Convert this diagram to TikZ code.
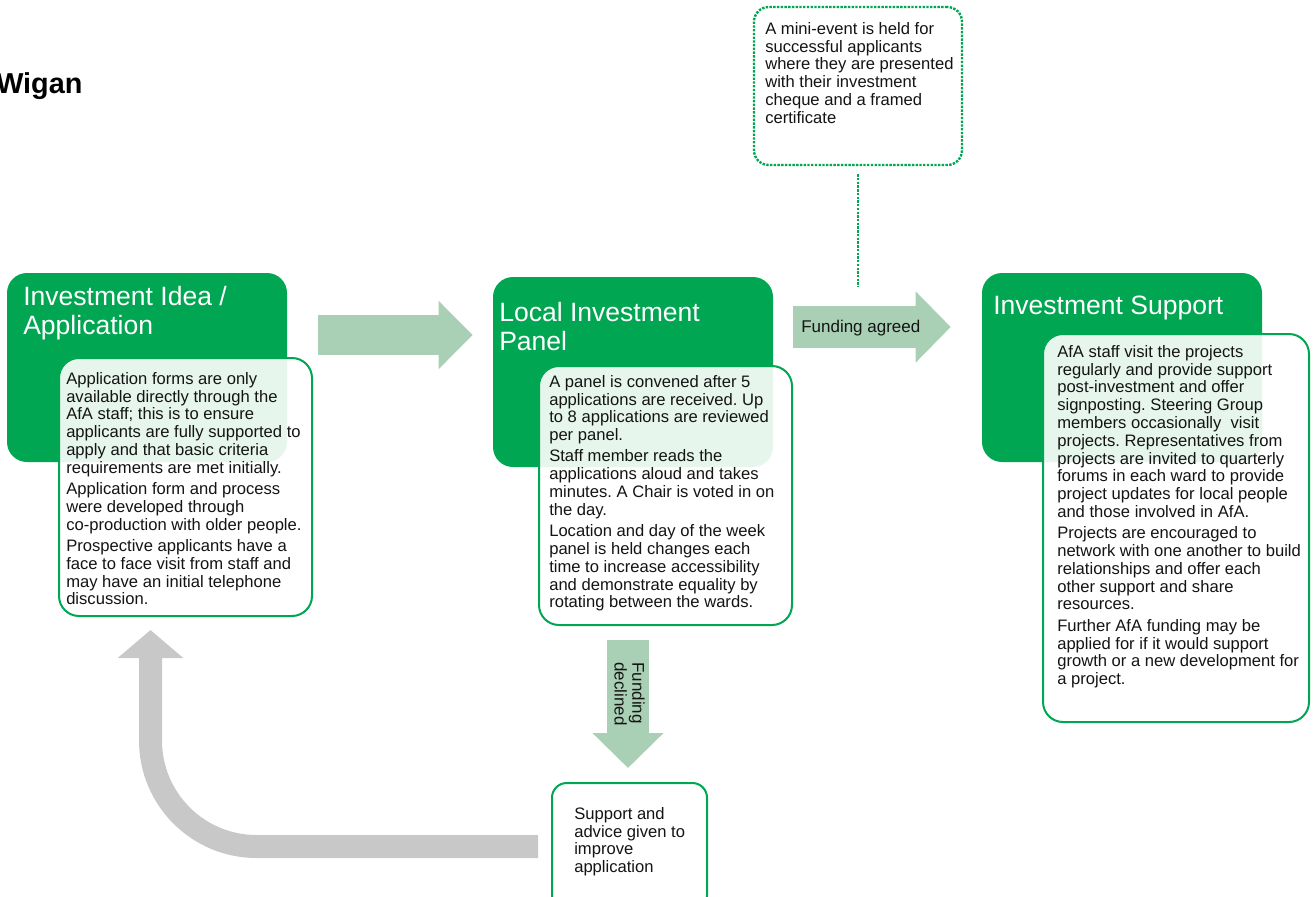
\documentclass[tikz,border=0pt]{standalone}
\usepackage{fontspec}
\setmainfont{Liberation Sans}
\usetikzlibrary{arrows.meta}
\frenchspacing
\definecolor{afagreen}{RGB}{0,166,81}
\definecolor{arrowgreen}{RGB}{169,208,181}
\definecolor{arrowgrey}{RGB}{200,200,200}
\definecolor{inktext}{RGB}{20,20,20}
\tikzset{>=stealth,
  boxsize/.style 2 args={minimum width=#1*0.75pt, minimum height=#2*0.75pt},
  headbox/.style={fill=afagreen, draw=none, rounded corners=15pt},
  notebox/.style={draw=afagreen, line width=1.5pt, fill=white, fill opacity=0.9, rounded corners=15pt},
  eventbox/.style={draw=afagreen, line width=1.8pt, densely dotted, fill=white, rounded corners=11pt},
  headtext/.style={anchor=north west, inner sep=0pt, align=left, text=white, font=\fontsize{19.9}{22.1}\selectfont},
  notetext/.style={anchor=north west, inner sep=0pt, align=left, text=inktext, font=\fontsize{12.45}{13.35}\selectfont},
  arrowtext/.style={inner sep=0pt, align=left, text=inktext, font=\fontsize{12.75}{13.3}\selectfont},
  blockarrow/.style={draw=arrowgreen, line width=31.5pt, -{Triangle[width=51.75pt, length=26.25pt]}},
  backarrow/.style={draw=arrowgrey, line width=17.25pt, rounded corners=79.5pt, -{Triangle[width=48pt, length=21pt]}},
  dotline/.style={draw=afagreen, line width=1.8pt, densely dotted}
}

\begin{document}
\begin{tikzpicture}[x=0.75pt, y=-0.75pt]
    \useasboundingbox (0,0) rectangle (1313,896);
    \clip (0,0) rectangle (1313,896);
    \node[anchor=base west, inner sep=0pt, font=\fontsize{21.6}{24}\selectfont\bfseries] (wigan) at (-4,93) {Wigan};
    % the three stages
    \node[headbox, boxsize={280}{189}] (idea) at (147,367.5) {};
    \node[headbox, boxsize={280}{190}] (panel) at (633,372) {};
    \node[headbox, boxsize={280}{189}] (support) at (1122,367.5) {};
    \node[notebox, boxsize={253}{258}] (ideanote) at (185.5,487) {};
    \node[notebox, boxsize={253}{259}] (panelnote) at (665.5,495.5) {};
    \node[notebox, boxsize={266}{388}] (supportnote) at (1176,528) {};
    \node[eventbox, boxsize={208}{158}] (event) at (858,86) {};
    \node[notebox, fill opacity=1, rounded corners=11pt, boxsize={155}{127}] (advice) at (629.5,846.5) {};
    % titles
    \node[headtext] (ideatitle) at (23,286) {Investment Idea /\\Application};
    \node[headtext] (paneltitle) at (499,302) {Local Investment\\Panel};
    \node[headtext] (supporttitle) at (993,296) {Investment Support};
    % notes
    \node[notetext] (ideatext) at (66,372) {Application forms are only\\available directly through the\\AfA staff; this is to ensure\\applicants are fully supported to\\apply and that basic criteria\\requirements are met initially.\\[2.6pt]Application form and process\\were developed through\\co-production with older people.\\[2.6pt]Prospective applicants have a\\face to face visit from staff and\\may have an initial telephone\\discussion.};
    \node[notetext] (paneltext) at (549,375) {A panel is convened after 5\\applications are received. Up\\to 8 applications are reviewed\\per panel.\\[2.6pt]Staff member reads the\\applications aloud and takes\\minutes. A Chair is voted in on\\the day.\\[2.6pt]Location and day of the week\\panel is held changes each\\time to increase accessibility\\and demonstrate equality by\\rotating between the wards.};
    \node[notetext] (supporttext) at (1057,345) {AfA staff visit the projects\\regularly and provide support\\post-investment and offer\\signposting. Steering Group\\members occasionally~ visit\\projects. Representatives from\\projects are invited to quarterly\\forums in each ward to provide\\project updates for local people\\and those involved in AfA.\\[2.6pt]Projects are encouraged to\\network with one another to build\\relationships and offer each\\other support and share\\resources.\\[2.6pt]Further AfA funding may be\\applied for if it would support\\growth or a new development for\\a project.};
    \node[notetext] (eventtext) at (765,22) {A mini-event is held for\\successful applicants\\where they are presented\\with their investment\\cheque and a framed\\certificate};
    \node[notetext] (advicetext) at (574,807) {Support and\\advice given to\\improve\\application};
    % arrows
    \draw[blockarrow, line width=30pt, -{Triangle[width=49.5pt, length=25.5pt]}, shorten <=23.25pt, shorten >=15pt] (idea.east |- 0,335) -- (panel.west |- 0,335);
    \draw[blockarrow, shorten <=15pt, shorten >=23.25pt] (panel.east |- 0,327) -- (support.west |- 0,327);
    \draw[blockarrow, shorten <=10.5pt, shorten >=10.5pt] (panelnote.south -| 628,0) -- (advice.north -| 628,0);
    \draw[backarrow, shorten <=9.75pt, shorten >=9.75pt] (advice.west) -- (advice.west -| 150.5,0) -- (ideanote.south -| 150.5,0);
    \draw[dotline, shorten <=6pt] (event.south) -- (event.south |- 0,287);
    \node[arrowtext, anchor=base west] (agreedlabel) at (801,332) {Funding agreed};
    \node[arrowtext, rotate=-90, anchor=north west] (declinedlabel) at (645,662) {Funding\\declined};
\end{tikzpicture}
\end{document}
